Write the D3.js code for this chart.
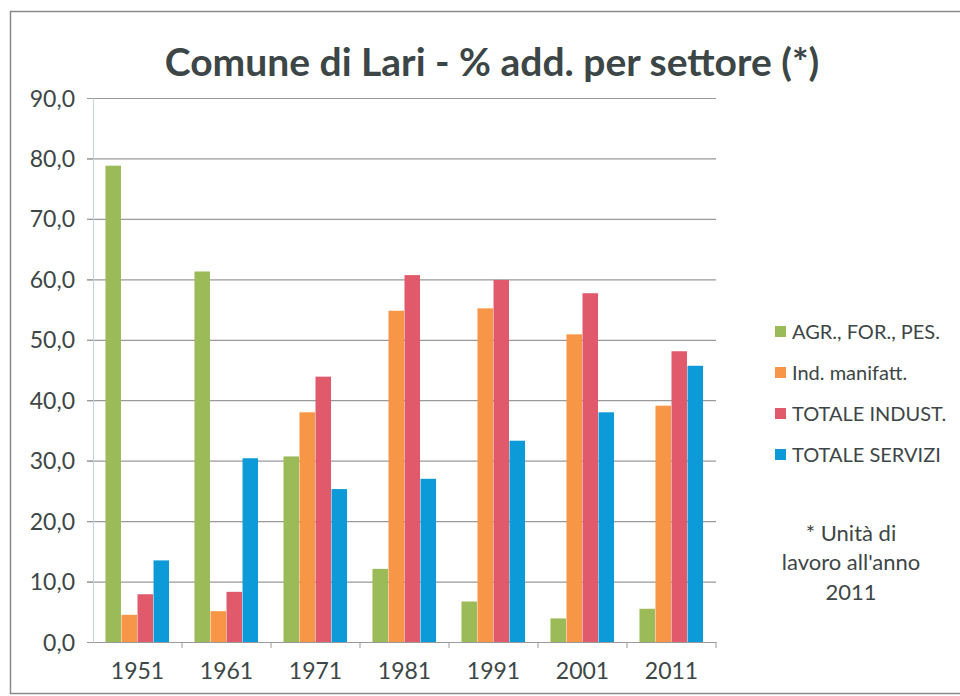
<!DOCTYPE html>
<html>
<head>
<meta charset="utf-8">
<script src="https://cdn.jsdelivr.net/npm/d3@7"></script>
<style>
  body { margin: 0; background: #fff; }
  text { font-family: Lato, "Open Sans", sans-serif; fill: #3d4646; }
</style>
</head>
<body>
<script>
// data
const years = ['1951', '1961', '1971', '1981', '1991', '2001', '2011'];
const seriesNames = ['AGR., FOR., PES.', 'Ind. manifatt.', 'TOTALE INDUST.', 'TOTALE SERVIZI'];
const agr = [78.8, 61.3, 30.7, 12.1, 6.7, 3.9, 5.5];
const manif = [4.5, 5.1, 38.0, 54.8, 55.2, 50.9, 39.1];
const indust = [7.9, 8.3, 43.9, 60.7, 59.9, 57.7, 48.1];
const servizi = [13.5, 30.4, 25.3, 27.0, 33.3, 38.0, 45.7];
const yTicks = [0, 10, 20, 30, 40, 50, 60, 70, 80, 90];
const footnote = ['* Unità di', "lavoro all'anno", '2011'];

const colors = ['#9bbb59', '#f79646', '#e05a6b', '#0d9ad8'];
const series = [agr, manif, indust, servizi];

const W = 960, H = 696;
const svg = d3.select('body').append('svg').attr('width', W).attr('height', H);

// chart frame
svg.append('rect').attr('x', 10.5).attr('y', 11.5).attr('width', 960).attr('height', 682)
  .attr('fill', '#fff').attr('stroke', '#8a8a8a').attr('stroke-width', 1.5);

const plot = { left: 93, right: 716, top: 98, bottom: 642 };

const x = d3.scaleBand().domain(years).range([plot.left, plot.right]).paddingInner(0.28).paddingOuter(0.14);
const xOuter = d3.scaleBand().domain(years).range([plot.left, plot.right]);
const xs = d3.scaleBand().domain(d3.range(series.length)).range([0, x.bandwidth()]);
const y = d3.scaleLinear().domain([0, 90]).range([plot.bottom, plot.top]);

// gridlines
svg.append('g').selectAll('line').data(yTicks.slice(1)).join('line')
  .attr('x1', plot.left - 6).attr('x2', plot.right)
  .attr('y1', d => y(d) + 0.5).attr('y2', d => y(d) + 0.5)
  .attr('stroke', '#9a9a9a').attr('stroke-width', 1.2);

// y axis
const yAxis = svg.append('g').attr('transform', `translate(${plot.left},0)`)
  .call(d3.axisLeft(y).tickValues(yTicks).tickSize(6).tickPadding(12)
    .tickFormat(d => d3.format('.1f')(d).replace('.', ',')));
yAxis.attr('font-size', 23);
yAxis.select('.domain').attr('stroke', '#c8d0e0');
yAxis.selectAll('.tick line').attr('stroke', '#9a9a9a');
yAxis.selectAll('text').attr('fill', '#3d4646').attr('dy', '0.35em');

// bars
const groups = svg.append('g').selectAll('g').data(years).join('g')
  .attr('transform', d => `translate(${x(d)},0)`);
groups.selectAll('rect').data((d, i) => series.map((s, k) => ({ k, v: s[i] }))).join('rect')
  .attr('x', d => xs(d.k)).attr('width', xs.bandwidth() - 0.5)
  .attr('y', d => y(d.v)).attr('height', d => y(0) - y(d.v))
  .attr('fill', d => colors[d.k]);

// x axis
const xAxis = svg.append('g').attr('transform', `translate(0,${plot.bottom})`)
  .call(d3.axisBottom(xOuter).tickSize(0).tickPadding(21));
xAxis.attr('font-size', 23);
xAxis.select('.domain').attr('stroke', '#9a9a9a').attr('stroke-width', 1.2);
xAxis.selectAll('text').attr('fill', '#3d4646');
svg.append('g').selectAll('line').data(years.slice(1).concat(['end'])).join('line')
  .attr('x1', (d, i) => plot.left + xOuter.step() * (i + 1)).attr('x2', (d, i) => plot.left + xOuter.step() * (i + 1))
  .attr('y1', plot.bottom).attr('y2', plot.bottom + 6)
  .attr('stroke', '#9a9a9a');

// title
svg.append('text').attr('x', 492).attr('y', 76).attr('text-anchor', 'middle')
  .attr('font-size', 39).attr('font-weight', 'bold').attr('fill', '#333b3b')
  .text('Comune di Lari - % add. per settore (*)');

// legend
const legend = svg.append('g').selectAll('g').data(seriesNames).join('g')
  .attr('transform', (d, i) => `translate(775,${332 + i * 41})`);
legend.append('rect').attr('x', 0).attr('y', -6).attr('width', 11).attr('height', 11)
  .attr('fill', (d, i) => colors[i]);
legend.append('text').attr('x', 17).attr('y', 0).attr('dy', '0.35em')
  .attr('font-size', 20).text(d => d);

// footnote
svg.append('g').selectAll('text').data(footnote).join('text')
  .attr('x', 851).attr('y', (d, i) => 533 + i * 29.5).attr('dy', '0.35em')
  .attr('text-anchor', 'middle').attr('font-size', 22).text(d => d);
</script>
</body>
</html>
